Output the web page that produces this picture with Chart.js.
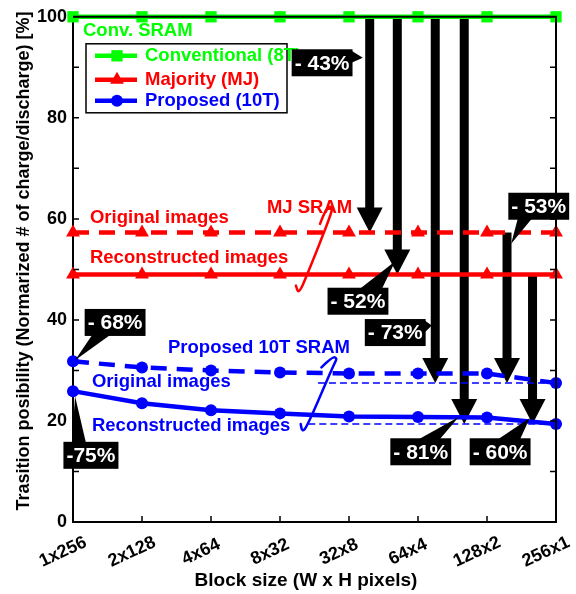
<!DOCTYPE html>
<html>
<head>
<meta charset="utf-8">
<script src="https://cdn.jsdelivr.net/npm/chart.js@4.4.1/dist/chart.umd.min.js"></script>
<style>
  html, body { margin: 0; padding: 0; background: #fff; }
</style>
</head>
<body>
<canvas id="transitionChart" width="576" height="594"></canvas>
<script>
/*
    TRANSITION PROBABILITY vs BLOCK SIZE
*/

const FONT = "'Liberation Sans', Arial, sans-serif";
const GREEN = '#00ff00';
const RED = '#ff0000';
const BLUE = '#0000ff';

// block sizes on the x axis
const blockSizes = ['1x256', '2x128', '4x64', '8x32', '32x8', '64x4', '128x2', '256x1'];

// normalized # of charge/discharge [%]
const conventional8T = [100, 100, 100, 100, 100, 100, 100, 100];
const majorityOriginal = [57.3, 57.3, 57.3, 57.3, 57.3, 57.3, 57.3, 57.3];
const majorityReconstructed = [49.0, 49.0, 49.0, 49.0, 49.0, 49.0, 49.0, 49.0];
const proposedOriginal = [31.8, 30.6, 30.0, 29.6, 29.4, 29.4, 29.4, 27.5];
const proposedReconstructed = [25.9, 23.5, 22.1, 21.5, 20.9, 20.8, 20.7, 19.4];

// y axis range and tick step
const yMin = 0;
const yMax = 100;
const yStep = 10;

//legend entries (text + dataset it takes its style from)
const legendItems = [
  { text: 'Conventional (8T)', dataset: 0 },
  { text: 'Majority (MJ)', dataset: 2 },
  { text: 'Proposed (10T)', dataset: 4 }
];

//reduction arrows, x in block index units, y in %
const arrows = [
  { x: 4.30, from: 100, to: majorityOriginal[4] },
  { x: 4.70, from: 100, to: majorityReconstructed[4] },
  { x: 5.25, from: 100, to: proposedOriginal[7] },
  { x: 5.67, from: 100, to: proposedReconstructed[7] },
  { x: 6.29, from: majorityOriginal[6], to: proposedOriginal[7] },
  { x: 6.66, from: majorityReconstructed[6], to: proposedReconstructed[7] }
];

//black callout boxes with a pointer wedge
const callouts = [
  { text: '- 43%', box: [3.61, 90.9], tip: [4.20, 91.9], side: 'right', base: [-12, 0] },
  { text: '- 52%', box: [4.13, 43.7], tip: [4.67, 51.6], side: 'top', base: [2, 24] },
  { text: '- 73%', box: [4.67, 37.5], tip: [5.20, 38.9], side: 'right', base: [-12, 0] },
  { text: '- 81%', box: [5.04, 13.9], tip: [5.59, 20.8], side: 'top', base: [-2, 19] },
  { text: '- 60%', box: [6.19, 13.9], tip: [6.62, 20.6], side: 'top', base: [-2, 20] },
  { text: '- 53%', box: [6.75, 62.5], tip: [6.35, 55.1], side: 'bottom', base: [-21, -7] },
  { text: '- 68%', box: [0.61, 39.5], tip: [0.03, 32.0], side: 'bottom', base: [-23, -5] },
  { text: '-75%', box: [0.26, 13.2], tip: [0.03, 24.9], side: 'top', base: [-19, -5] }
];

//captions (left x, baseline y)
const captions = [
  { text: 'Conv. SRAM', at: [0.145, 96.2], color: GREEN },
  { text: 'Original images', at: [0.246, 59.1], color: RED },
  { text: 'MJ SRAM', at: [2.81, 61.1], color: RED },
  { text: 'Reconstructed images', at: [0.246, 51.2], color: RED },
  { text: 'Proposed 10T SRAM', at: [1.377, 33.4], color: BLUE },
  { text: 'Original images', at: [0.275, 26.7], color: BLUE },
  { text: 'Reconstructed images', at: [0.275, 18.0], color: BLUE }
];

//hand drawn brackets linking captions to the curves
const squiggles = [
  { color: RED, pts: [[3.58, 59.0], [3.66, 62.0], [3.76, 62.6], [3.74, 60.8], [3.36, 47.8], [3.27, 45.2], [3.23, 46.8]] },
  { color: BLUE, pts: [[3.60, 30.6], [3.76, 32.8], [3.83, 32.4], [3.78, 31.2], [3.39, 18.8], [3.32, 17.9], [3.30, 19.4]] }
];

//thin dashed guides at the 256x1 levels
const guides = [
  { from: 3.55, value: proposedOriginal[7] },
  { from: 3.41, value: proposedReconstructed[7] }
];

function toPoints(values) {
  return values.map((v, i) => ({ x: i, y: v }));
}

function makeDataset(label, values, color, style, radius, dash) {
  return {
    label: label,
    data: toPoints(values),
    borderColor: color,
    backgroundColor: color,
    pointBackgroundColor: color,
    pointBorderWidth: 0,
    borderWidth: 4.5,
    borderDash: dash || [],
    pointStyle: style,
    pointRadius: radius,
    tension: 0,
    clip: false
  };
}

function drawArrow(ctx, x, yTop, yTip) {
  const shaft = 9, headW = 26, headL = 25;
  ctx.fillStyle = '#000';
  ctx.fillRect(x - shaft / 2, yTop, shaft, yTip - headL - yTop + 1);
  ctx.beginPath();
  ctx.moveTo(x - headW / 2, yTip - headL);
  ctx.lineTo(x + headW / 2, yTip - headL);
  ctx.lineTo(x, yTip);
  ctx.closePath();
  ctx.fill();
}

function drawCallout(ctx, c, px, py) {
  ctx.font = 'bold 21px ' + FONT;
  const w = ctx.measureText(c.text).width + 6, h = 27;
  const cx = px(c.box[0]), cy = py(c.box[1]);
  ctx.fillStyle = '#000';
  ctx.fillRect(cx - w / 2, cy - h / 2, w, h);
  ctx.beginPath();
  if (c.side === 'top' || c.side === 'bottom') {
    const ey = c.side === 'top' ? cy - h / 2 + 1 : cy + h / 2 - 1;
    ctx.moveTo(cx + c.base[0], ey);
    ctx.lineTo(cx + c.base[1], ey);
  } else {
    const ex = c.side === 'right' ? cx + w / 2 - 1 : cx - w / 2 + 1;
    ctx.moveTo(ex, cy + c.base[0]);
    ctx.lineTo(ex, cy + c.base[1]);
  }
  ctx.lineTo(px(c.tip[0]), py(c.tip[1]));
  ctx.closePath();
  ctx.fill();
  ctx.fillStyle = '#fff';
  ctx.textAlign = 'center';
  ctx.textBaseline = 'middle';
  ctx.fillText(c.text, cx, cy + 1);
}

function drawSquiggle(ctx, s, px, py) {
  const p = s.pts.map(q => [px(q[0]), py(q[1])]);
  ctx.strokeStyle = s.color;
  ctx.lineWidth = 2.5;
  ctx.lineCap = 'round';
  ctx.lineJoin = 'round';
  ctx.setLineDash([]);
  ctx.beginPath();
  ctx.moveTo(p[0][0], p[0][1]);
  for (let i = 1; i < p.length - 1; i++) {
    const mx = (p[i][0] + p[i + 1][0]) / 2, my = (p[i][1] + p[i + 1][1]) / 2;
    ctx.quadraticCurveTo(p[i][0], p[i][1], mx, my);
  }
  ctx.lineTo(p[p.length - 1][0], p[p.length - 1][1]);
  ctx.stroke();
}

//arrows and guides go under the curves
const underlayPlugin = {
  id: 'underlay',
  beforeDatasetsDraw(chart) {
    const ctx = chart.ctx;
    const xs = chart.scales.x, ys = chart.scales.y;
    ctx.save();
    arrows.forEach(a => drawArrow(ctx, xs.getPixelForValue(a.x), ys.getPixelForValue(a.from), ys.getPixelForValue(a.to)));
    ctx.strokeStyle = BLUE;
    ctx.lineWidth = 1.5;
    ctx.setLineDash([7, 4]);
    guides.forEach(g => {
      const y = ys.getPixelForValue(g.value);
      ctx.beginPath();
      ctx.moveTo(xs.getPixelForValue(g.from), y);
      ctx.lineTo(xs.getPixelForValue(blockSizes.length - 1), y);
      ctx.stroke();
    });
    ctx.restore();
  }
};

//frame, ticks, labels, legend and annotations on top
const overlayPlugin = {
  id: 'overlay',
  afterDraw(chart) {
    const ctx = chart.ctx;
    const area = chart.chartArea;
    const xs = chart.scales.x, ys = chart.scales.y;
    const px = v => xs.getPixelForValue(v);
    const py = v => ys.getPixelForValue(v);
    ctx.save();

    // right and top frame
    ctx.strokeStyle = '#000';
    ctx.lineWidth = 2;
    ctx.beginPath();
    ctx.moveTo(area.left, area.top);
    ctx.lineTo(area.right, area.top);
    ctx.lineTo(area.right, area.bottom);
    ctx.stroke();

    // inward tick marks
    ctx.lineWidth = 1.5;
    ctx.beginPath();
    for (let v = yMin; v <= yMax; v += yStep) {
      const y = py(v);
      ctx.moveTo(area.left, y); ctx.lineTo(area.left + 6, y);
      ctx.moveTo(area.right, y); ctx.lineTo(area.right - 6, y);
    }
    blockSizes.forEach((b, i) => {
      ctx.moveTo(px(i), area.bottom); ctx.lineTo(px(i), area.bottom - 6);
    });
    ctx.stroke();

    // slanted x tick labels
    ctx.fillStyle = '#000';
    ctx.font = 'bold 18px ' + FONT;
    ctx.textAlign = 'center';
    ctx.textBaseline = 'middle';
    blockSizes.forEach((b, i) => {
      ctx.save();
      ctx.translate(px(i) - 10, area.bottom + 30);
      ctx.rotate(-25 * Math.PI / 180);
      ctx.fillText(b, 0, 0);
      ctx.restore();
    });

    // axis titles
    ctx.font = 'bold 19px ' + FONT;
    ctx.fillText('Block size (W x H pixels)', 306, 581);
    ctx.save();
    ctx.translate(24, 261);
    ctx.rotate(-Math.PI / 2);
    ctx.font = 'bold 18px ' + FONT;
    ctx.fillText('Trasition posibility (Normarized # of charge/discharge) [%]', 0, 0);
    ctx.restore();

    // legend box
    const lx = area.left + 13, ly = area.top + 27;
    ctx.fillStyle = '#fff';
    ctx.fillRect(lx, ly, 201, 69);
    ctx.strokeStyle = '#000';
    ctx.lineWidth = 1.5;
    ctx.strokeRect(lx, ly, 201, 69);
    const rowY = [12, 36, 57];
    legendItems.forEach((item, k) => {
      const ds = chart.data.datasets[item.dataset];
      const y = ly + rowY[k];
      ctx.strokeStyle = ds.borderColor;
      ctx.lineWidth = 4.5;
      ctx.setLineDash([]);
      ctx.beginPath();
      ctx.moveTo(lx + 9, y);
      ctx.lineTo(lx + 51, y);
      ctx.stroke();
      ctx.fillStyle = ds.borderColor;
      Chart.helpers.drawPoint(ctx, { pointStyle: ds.pointStyle, radius: ds.pointRadius, rotation: 0, borderWidth: 0 }, lx + 31, y);
      ctx.font = 'bold 18.5px ' + FONT;
      ctx.textAlign = 'left';
      ctx.textBaseline = 'alphabetic';
      ctx.fillText(item.text, lx + 59, y + 5.5);
    });

    // captions
    ctx.font = 'bold 18.5px ' + FONT;
    ctx.textAlign = 'left';
    ctx.textBaseline = 'alphabetic';
    captions.forEach(c => {
      ctx.fillStyle = c.color;
      ctx.fillText(c.text, px(c.at[0]), py(c.at[1]));
    });

    squiggles.forEach(s => drawSquiggle(ctx, s, px, py));
    callouts.forEach(c => drawCallout(ctx, c, px, py));

    ctx.restore();
  }
};

function plotTransitionChart(element) {
  const ctx = document.getElementById(element).getContext('2d');

  const myChart = new Chart(ctx, {
    type: 'line',
    data: {
      datasets: [
        makeDataset('Conventional (8T)', conventional8T, GREEN, 'rect', 8),
        makeDataset('Majority original', majorityOriginal, RED, 'triangle', 8, [16, 10]),
        makeDataset('Majority (MJ)', majorityReconstructed, RED, 'triangle', 8),
        makeDataset('Proposed original', proposedOriginal, BLUE, 'circle', 6, [16, 10]),
        makeDataset('Proposed (10T)', proposedReconstructed, BLUE, 'circle', 6)
      ]
    },
    options: {
      responsive: false,
      animation: false,
      devicePixelRatio: 1,
      layout: { padding: { top: 16, right: 20, left: 0, bottom: 0 } },
      scales: {
        x: {
          type: 'linear',
          min: 0,
          max: blockSizes.length - 1,
          ticks: { display: false, stepSize: 1 },
          grid: { display: false, drawTicks: false },
          border: { color: '#000', width: 2 },
          afterFit: scale => { scale.height = 72; }
        },
        y: {
          min: yMin,
          max: yMax,
          ticks: {
            stepSize: yStep,
            autoSkip: false,
            padding: 6,
            color: '#000',
            font: { family: FONT, size: 18, weight: 'bold' },
            callback: v => (v % 20 === 0 ? v : '')
          },
          grid: { display: false, drawTicks: false },
          border: { color: '#000', width: 2 },
          afterFit: scale => { scale.width = 73; }
        }
      },
      plugins: {
        legend: { display: false },
        tooltip: { enabled: false }
      }
    },
    plugins: [underlayPlugin, overlayPlugin]
  });

  return myChart;
}

plotTransitionChart('transitionChart');
</script>
</body>
</html>
